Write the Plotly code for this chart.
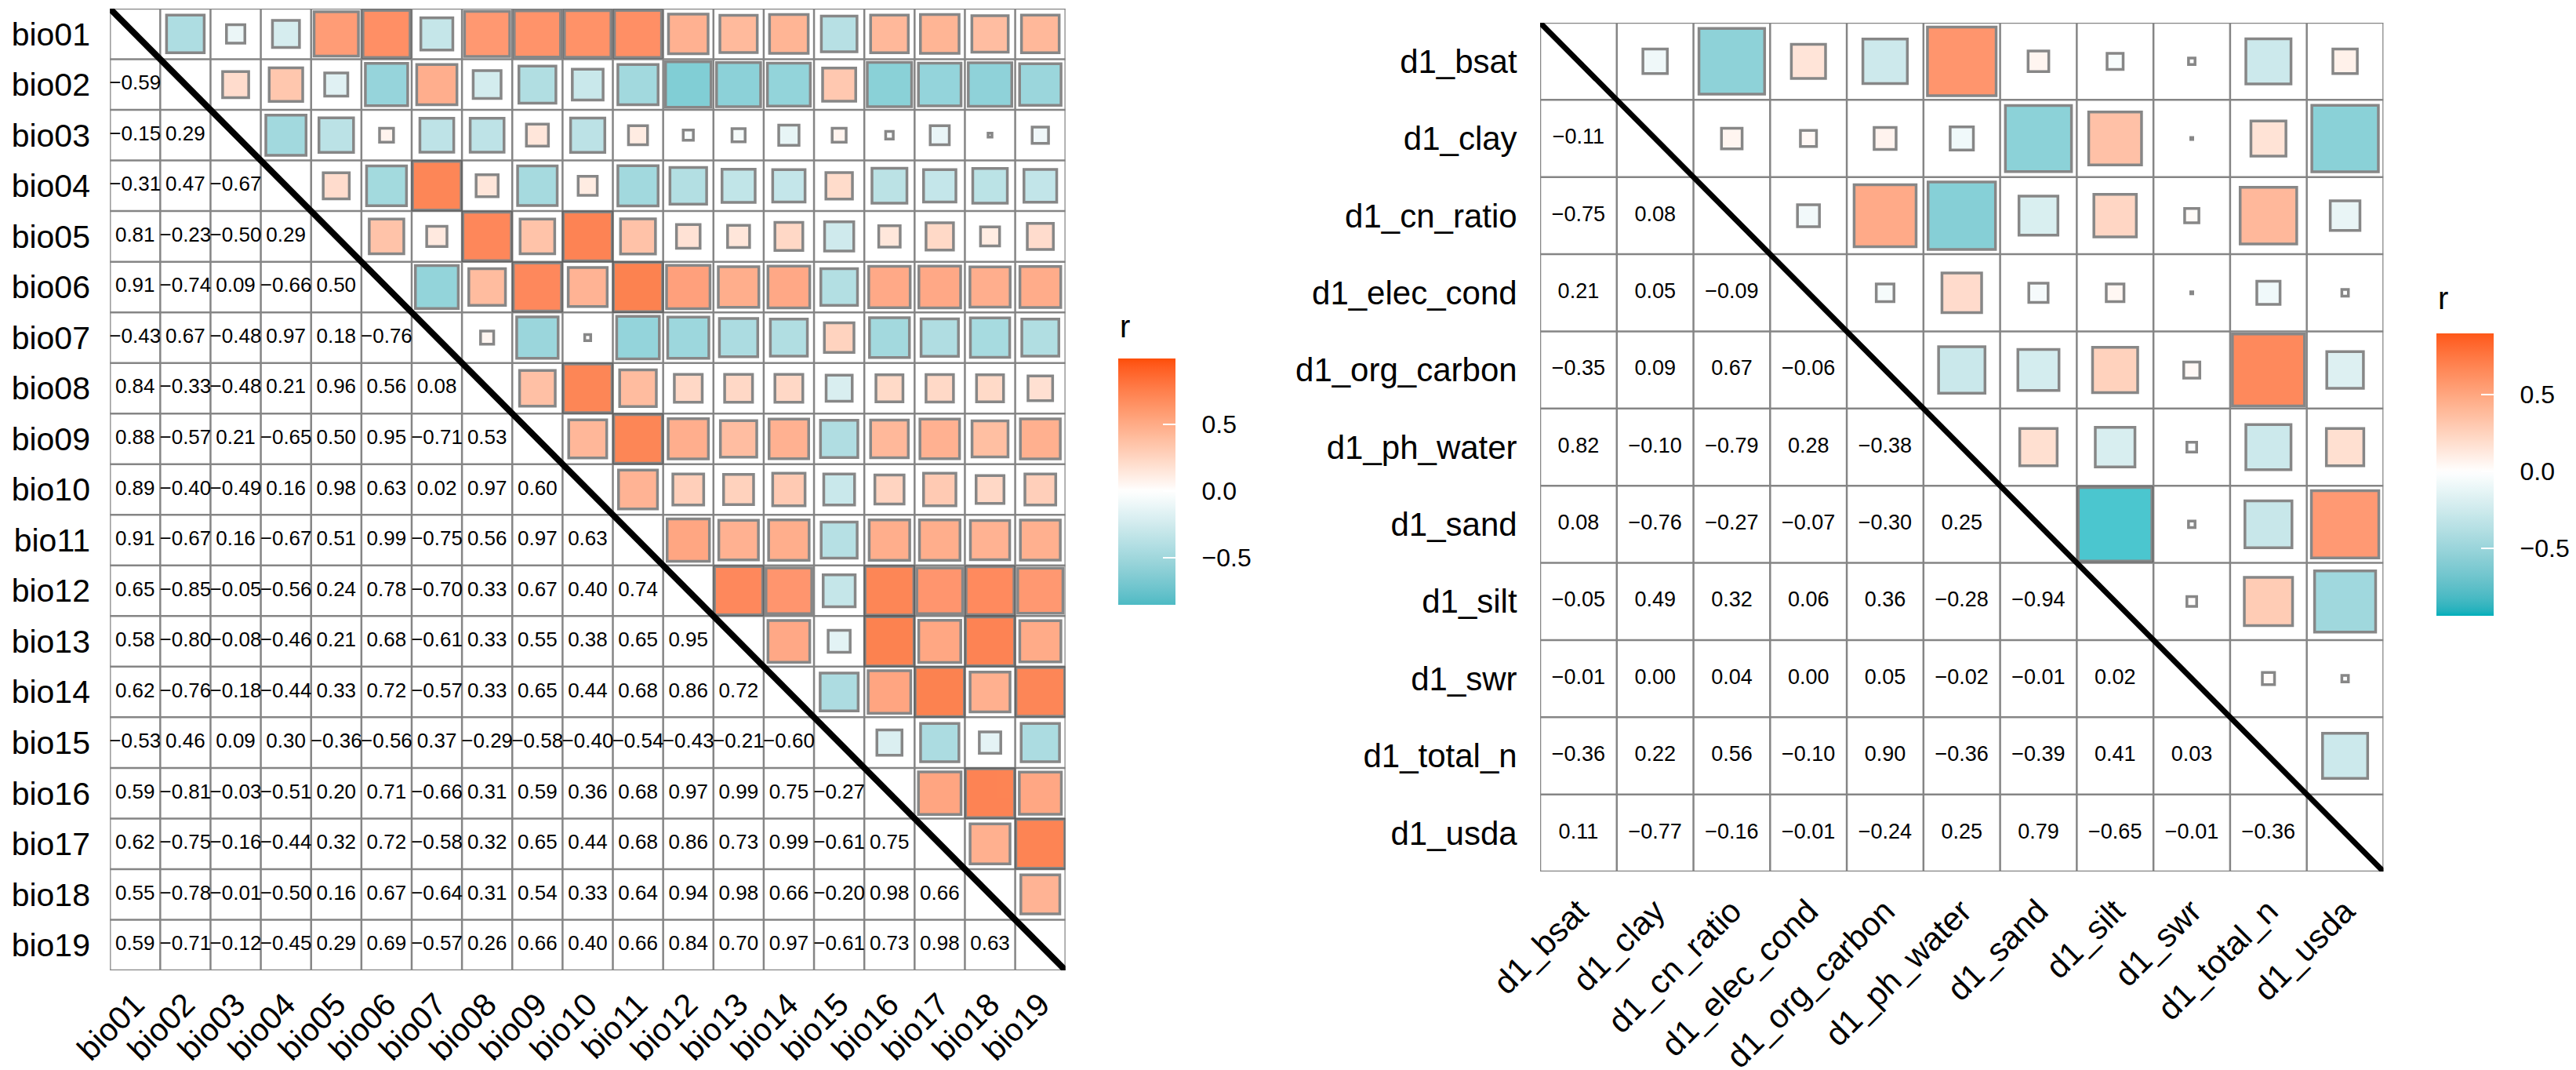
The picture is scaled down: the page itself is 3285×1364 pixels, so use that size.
import numpy as np
import plotly.graph_objects as go

W, H = 3285, 1364

# ---------------- data ----------------
bio_labels = ["bio01", "bio02", "bio03", "bio04", "bio05", "bio06", "bio07", "bio08", "bio09", "bio10",
              "bio11", "bio12", "bio13", "bio14", "bio15", "bio16", "bio17", "bio18", "bio19"]

# lower triangle, row i holds r(bio_i, bio_j) for j < i
bio_lower = [
    [],
    [-0.59],
    [-0.15, 0.29],
    [-0.31, 0.47, -0.67],
    [0.81, -0.23, -0.50, 0.29],
    [0.91, -0.74, 0.09, -0.66, 0.50],
    [-0.43, 0.67, -0.48, 0.97, 0.18, -0.76],
    [0.84, -0.33, -0.48, 0.21, 0.96, 0.56, 0.08],
    [0.88, -0.57, 0.21, -0.65, 0.50, 0.95, -0.71, 0.53],
    [0.89, -0.40, -0.49, 0.16, 0.98, 0.63, 0.02, 0.97, 0.60],
    [0.91, -0.67, 0.16, -0.67, 0.51, 0.99, -0.75, 0.56, 0.97, 0.63],
    [0.65, -0.85, -0.05, -0.56, 0.24, 0.78, -0.70, 0.33, 0.67, 0.40, 0.74],
    [0.58, -0.80, -0.08, -0.46, 0.21, 0.68, -0.61, 0.33, 0.55, 0.38, 0.65, 0.95],
    [0.62, -0.76, -0.18, -0.44, 0.33, 0.72, -0.57, 0.33, 0.65, 0.44, 0.68, 0.86, 0.72],
    [-0.53, 0.46, 0.09, 0.30, -0.36, -0.56, 0.37, -0.29, -0.58, -0.40, -0.54, -0.43, -0.21, -0.60],
    [0.59, -0.81, -0.03, -0.51, 0.20, 0.71, -0.66, 0.31, 0.59, 0.36, 0.68, 0.97, 0.99, 0.75, -0.27],
    [0.62, -0.75, -0.16, -0.44, 0.32, 0.72, -0.58, 0.32, 0.65, 0.44, 0.68, 0.86, 0.73, 0.99, -0.61, 0.75],
    [0.55, -0.78, -0.01, -0.50, 0.16, 0.67, -0.64, 0.31, 0.54, 0.33, 0.64, 0.94, 0.98, 0.66, -0.20, 0.98, 0.66],
    [0.59, -0.71, -0.12, -0.45, 0.29, 0.69, -0.57, 0.26, 0.66, 0.40, 0.66, 0.84, 0.70, 0.97, -0.61, 0.73, 0.98, 0.63],
]

soil_labels = ["d1_bsat", "d1_clay", "d1_cn_ratio", "d1_elec_cond", "d1_org_carbon", "d1_ph_water",
               "d1_sand", "d1_silt", "d1_swr", "d1_total_n", "d1_usda"]

soil_lower = [
    [],
    [-0.11],
    [-0.75, 0.08],
    [0.21, 0.05, -0.09],
    [-0.35, 0.09, 0.67, -0.06],
    [0.82, -0.10, -0.79, 0.28, -0.38],
    [0.08, -0.76, -0.27, -0.07, -0.30, 0.25],
    [-0.05, 0.49, 0.32, 0.06, 0.36, -0.28, -0.94],
    [-0.01, 0.00, 0.04, 0.00, 0.05, -0.02, -0.01, 0.02],
    [-0.36, 0.22, 0.56, -0.10, 0.90, -0.36, -0.39, 0.41, 0.03],
    [0.11, -0.77, -0.16, -0.01, -0.24, 0.25, 0.79, -0.65, -0.01, -0.36],
]

colorbar_ticks = [-0.5, 0.0, 0.5]
colorbar_ticktext = ["\u2212" + "0.5", "0.0", "0.5"]

# ---------------- styling helpers ----------------
LOW = (0, 175, 187)
MID = (255, 255, 255)
HIGH = (252, 78, 7)
FONT = "Liberation Sans, Arial, sans-serif"


def _lin(c):
    c = c / 255.0
    return c / 12.92 if c <= 0.04045 else ((c + 0.055) / 1.055) ** 2.4


def _gam(c):
    c = 12.92 * c if c <= 0.0031308 else 1.055 * c ** (1 / 2.4) - 0.055
    return int(round(min(max(c, 0), 1) * 255))


def rgb2lab(rgb):
    r, g, b = [_lin(v) for v in rgb]
    x = (0.4124 * r + 0.3576 * g + 0.1805 * b) / 0.95047
    y = (0.2126 * r + 0.7152 * g + 0.0722 * b) / 1.0
    z = (0.0193 * r + 0.1192 * g + 0.9505 * b) / 1.08883

    def f(t):
        return t ** (1 / 3) if t > 0.008856 else 7.787 * t + 16 / 116
    fx, fy, fz = f(x), f(y), f(z)
    return (116 * fy - 16, 500 * (fx - fy), 200 * (fy - fz))


def lab2rgb(lab):
    L, a, b = lab
    fy = (L + 16) / 116
    fx = fy + a / 500
    fz = fy - b / 200

    def finv(t):
        return t ** 3 if t ** 3 > 0.008856 else (t - 16 / 116) / 7.787
    x, y, z = finv(fx) * 0.95047, finv(fy), finv(fz) * 1.08883
    r = 3.2406 * x - 1.5372 * y - 0.4986 * z
    g = -0.9689 * x + 1.8758 * y + 0.0415 * z
    bb = 0.0557 * x - 0.2040 * y + 1.0570 * z
    return (_gam(r), _gam(g), _gam(bb))


LAB_LOW, LAB_MID, LAB_HIGH = rgb2lab(LOW), rgb2lab(MID), rgb2lab(HIGH)


def div_color(t):
    if t >= 0:
        a, b = LAB_MID, LAB_HIGH
    else:
        a, b, t = LAB_MID, LAB_LOW, -t
    t = min(t, 1.0)
    lab = tuple(a[k] + (b[k] - a[k]) * t for k in range(3))
    r, g, bl = lab2rgb(lab)
    return f"rgb({r},{g},{bl})"


def make_scale(cmin, cmax):
    M = max(abs(cmin), abs(cmax))
    stops = []
    for p in np.linspace(0, 1, 61):
        v = cmin + p * (cmax - cmin)
        stops.append([float(p), div_color(v / M)])
    return stops


def full_matrix(lower):
    n = len(lower)
    m = np.zeros((n, n))
    for i, row in enumerate(lower):
        for j, v in enumerate(row):
            m[i, j] = v
            m[j, i] = v
    return m


def fmt(v):
    s = f"{abs(v):.2f}"
    return ("\u2212" + s) if v < 0 else s


fig = go.Figure()


def add_panel(labels, lower, px, ax_suffix, cell_px, text_size, label_size, cb_geom, line_w, ylen, xlen):
    x0p, x1p, y0p, y1p = px
    n = len(labels)
    m = full_matrix(lower)
    vals_all = [v for row in lower for v in row]
    cmin, cmax = min(vals_all), max(vals_all)

    # upper-triangle squares
    ux, uy, uc, us = [], [], [], []
    for i in range(n):
        for j in range(i + 1, n):
            ux.append(j + 1)
            uy.append(i + 1)
            uc.append(m[i, j])
            us.append(max(np.sqrt(abs(m[i, j])) * cell_px - 1.5, 2.5))
    cbx, cby, cblen, cbth, lbl_size = cb_geom
    fig.add_trace(go.Scatter(
        x=ux, y=uy, mode="markers", xaxis="x" + ax_suffix, yaxis="y" + ax_suffix,
        hoverinfo="skip",
        marker=dict(symbol="square", size=us, color=uc, cmin=cmin, cmax=cmax,
                    colorscale=make_scale(cmin, cmax),
                    line=dict(color="#555555", width=3.5),
                    colorbar=dict(x=cbx / W, xanchor="left", y=1 - cby / H, yanchor="top",
                                  len=cblen, lenmode="pixels", thickness=cbth, thicknessmode="pixels",
                                  xpad=0, ypad=0, outlinewidth=0,
                                  tickmode="array", tickvals=colorbar_ticks,
                                  ticktext=["\u00a0\u00a0\u00a0" + t for t in colorbar_ticktext],
                                  ticks="inside", ticklen=16, tickcolor="white", tickwidth=2,
                                  tickfont=dict(family=FONT, size=lbl_size, color="#000000"))),
        showlegend=False))

    # lower-triangle values
    tx, ty, tt = [], [], []
    for i in range(n):
        for j in range(i):
            tx.append(j + 1)
            ty.append(i + 1)
            tt.append(fmt(m[i, j]))
    fig.add_trace(go.Scatter(
        x=tx, y=ty, mode="text", text=tt, xaxis="x" + ax_suffix, yaxis="y" + ax_suffix,
        textfont=dict(family=FONT, size=text_size, color="#000000"),
        hoverinfo="skip", showlegend=False))

    xr = "x" + ax_suffix
    yr = "y" + ax_suffix
    # cell grid
    for k in range(n + 1):
        fig.add_shape(type="line", xref=xr, yref=yr, x0=k + 0.5, x1=k + 0.5, y0=0.5, y1=n + 0.5,
                      line=dict(color="#858585", width=2.5), layer="below")
        fig.add_shape(type="line", xref=xr, yref=yr, y0=k + 0.5, y1=k + 0.5, x0=0.5, x1=n + 0.5,
                      line=dict(color="#858585", width=2.5), layer="below")
    # diagonal
    fig.add_shape(type="line", xref=xr, yref=yr, x0=0.5, y0=0.5, x1=n + 0.5, y1=n + 0.5,
                  line=dict(color="#000000", width=line_w), layer="above")

    axis_common = dict(showgrid=False, zeroline=False, showline=False, automargin=False,
                       tickmode="array", tickvals=list(range(1, n + 1)), ticktext=labels,
                       ticks="outside", tickcolor="rgba(0,0,0,0)",
                       tickfont=dict(family=FONT, size=label_size, color="#000000"))
    fig.update_layout(**{
        "xaxis" + ax_suffix: dict(domain=[x0p / W, x1p / W], range=[0.5, n + 0.5],
                                  anchor="y" + ax_suffix, tickangle=-45, ticklen=xlen, **axis_common),
        "yaxis" + ax_suffix: dict(domain=[1 - y1p / H, 1 - y0p / H], range=[n + 0.5, 0.5],
                                  anchor="x" + ax_suffix, ticklen=ylen, **axis_common),
    })


add_panel(bio_labels, bio_lower, (133, 1359, 3, 1229), "", 64.5, 26, 41,
          (1427, 449, 314, 73, 32), 8, 16, 2)
add_panel(soil_labels, soil_lower, (1968, 3050, 21, 1103), "2", 98.4, 27, 42,
          (3118, 417, 360, 73, 32), 7, 20, 8)

# legend titles
for (xp, yp) in [(1427, 432), (3118, 396)]:
    fig.add_annotation(text="r", xref="paper", yref="paper", x=xp / W, y=1 - yp / H,
                       xanchor="left", yanchor="bottom", showarrow=False,
                       font=dict(family=FONT, size=40, color="#000000"))

fig.update_layout(width=W, height=H, margin=dict(l=0, r=0, t=0, b=0),
                  paper_bgcolor="white", plot_bgcolor="white", showlegend=False)

fig.write_html("out.html")
